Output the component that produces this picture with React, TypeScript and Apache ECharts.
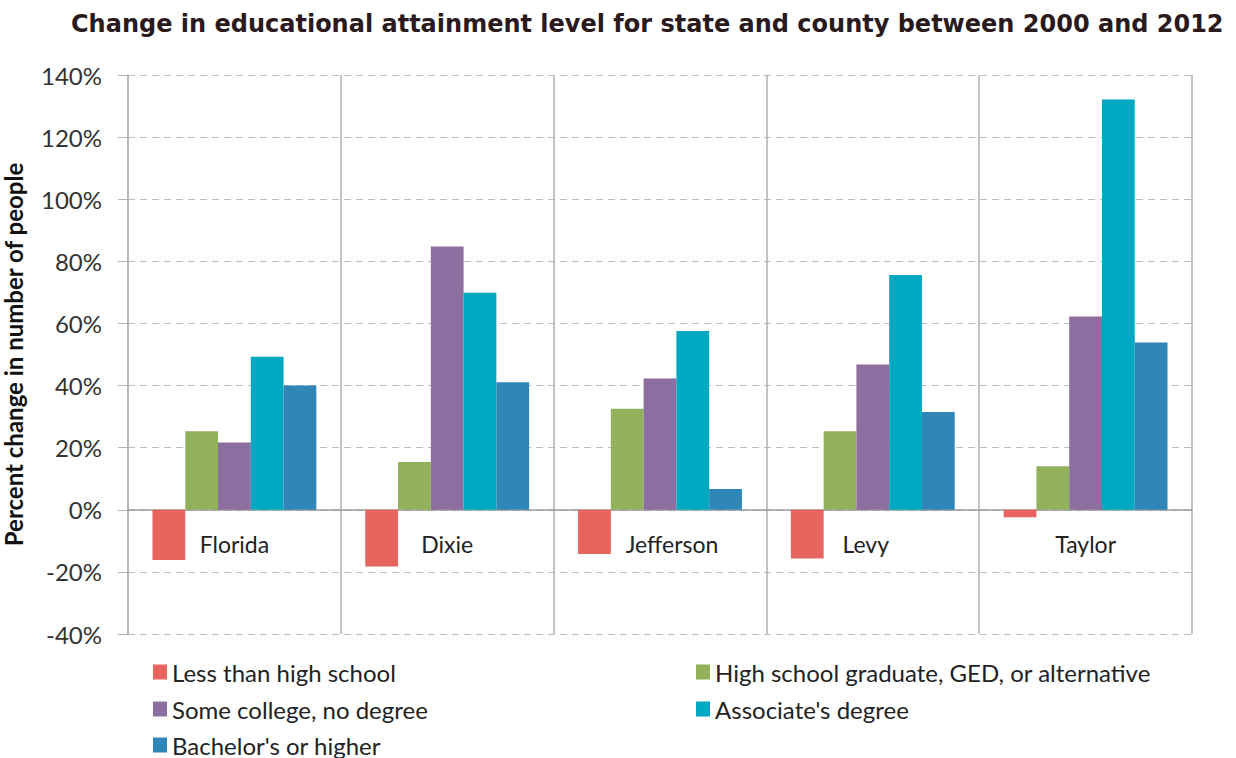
import React, { useEffect, useRef } from "react";
import * as echarts from "echarts";

const titleText = "Change in educational attainment level for state and county between 2000 and 2012";
const categories = ["Florida", "Dixie", "Jefferson", "Levy", "Taylor"];
const seriesNames = [
  "Less than high school",
  "High school graduate, GED, or alternative",
  "Some college, no degree",
  "Associate's degree",
  "Bachelor's or higher",
];
const lessThanHS = [-16.2, -18.3, -14.2, -15.7, -2.4];
const highSchool = [25.3, 15.4, 32.5, 25.3, 14.0];
const someCollege = [21.7, 84.8, 42.3, 46.8, 62.2];
const associate = [49.3, 69.9, 57.6, 75.6, 132.1];
const bachelor = [40.0, 41.1, 6.7, 31.5, 53.9];
const seriesValues = [lessThanHS, highSchool, someCollege, associate, bachelor];
const colors = ["#e8655f", "#91b15a", "#8c6ea0", "#00a8c1", "#3186b8"];
const yTicks = [-40, -20, 0, 20, 40, 60, 80, 100, 120, 140];

const legendPos = [
  { left: 153, top: 660 },
  { left: 696, top: 660 },
  { left: 153, top: 697 },
  { left: 696, top: 697 },
  { left: 153, top: 733 },
];

export default function App() {
  const ref = useRef<HTMLDivElement>(null);
  useEffect(() => {
    if (!ref.current) return;
    const chart = echarts.init(ref.current, null, { renderer: "svg" });
    const font = "Lato";
    const labelBase = { fontFamily: font, fontSize: 23, color: "#222" };
    chart.setOption({
      animation: false,
      backgroundColor: "#ffffff",
      title: {
        text: titleText,
        left: 66,
        top: 7,
        textStyle: {
          fontFamily: "DejaVu Sans",
          fontSize: 24,
          fontWeight: "bold",
          color: "#2a1a1c",
        },
      },
      legend: seriesNames.map((n, i) => ({
        data: [n],
        left: legendPos[i].left,
        top: legendPos[i].top,
        itemWidth: 14,
        itemHeight: 15,
        icon: "rect",
        padding: 0,
        textStyle: { fontFamily: font, fontSize: 24, color: "#222" },
        itemGap: 8,
      })),
      grid: { left: 128, right: 44, top: 75, bottom: 124, containLabel: false, outerBoundsMode: "none" },
      xAxis: {
        type: "category",
        data: categories,
        axisLine: { onZero: true, lineStyle: { color: "#9a9a9a", width: 1.5 } },
        axisTick: { show: false },
        axisLabel: {
          ...labelBase,
          margin: -102,
          formatter: (v: string) =>
            v === "Jefferson" ? `{r|${v}}` : v === "Levy" ? `{l|${v}}` : v,
          rich: {
            r: { ...labelBase, padding: [0, 0, 0, 24] },
            l: { ...labelBase, padding: [0, 14, 0, 0] },
          },
        },
        splitLine: { show: true, interval: 0, lineStyle: { color: "#b0b0b0", width: 1.5, type: "solid" } },
      },
      yAxis: {
        type: "value",
        min: yTicks[0],
        max: yTicks[yTicks.length - 1],
        interval: 20,
        name: "Percent change in number of people",
        nameLocation: "middle",
        nameGap: 103,
        nameTextStyle: { fontFamily: font, fontSize: 24, fontWeight: "bold", color: "#111" },
        axisLine: { show: true, lineStyle: { color: "#b0b0b0", width: 1.5 } },
        axisTick: { show: true, length: 10, lineStyle: { color: "#b0b0b0" } },
        axisLabel: {
          fontFamily: font,
          fontSize: 24,
          color: "#333",
          margin: 26,
          formatter: (v: number) => `${v}%`,
        },
        splitLine: { show: true, lineStyle: { color: "#bdbdbd", type: [7, 5], width: 1.2 } },
      },
      series: seriesNames.map((n, i) => ({
        name: n,
        type: "bar",
        data: seriesValues[i],
        barGap: "0%",
        barCategoryGap: "23%",
        itemStyle: { color: colors[i] },
      })),
    });
    return () => chart.dispose();
  }, []);
  return <div ref={ref} style={{ position: "fixed", left: 0, top: 0, width: 1236, height: 758 }} />;
}
